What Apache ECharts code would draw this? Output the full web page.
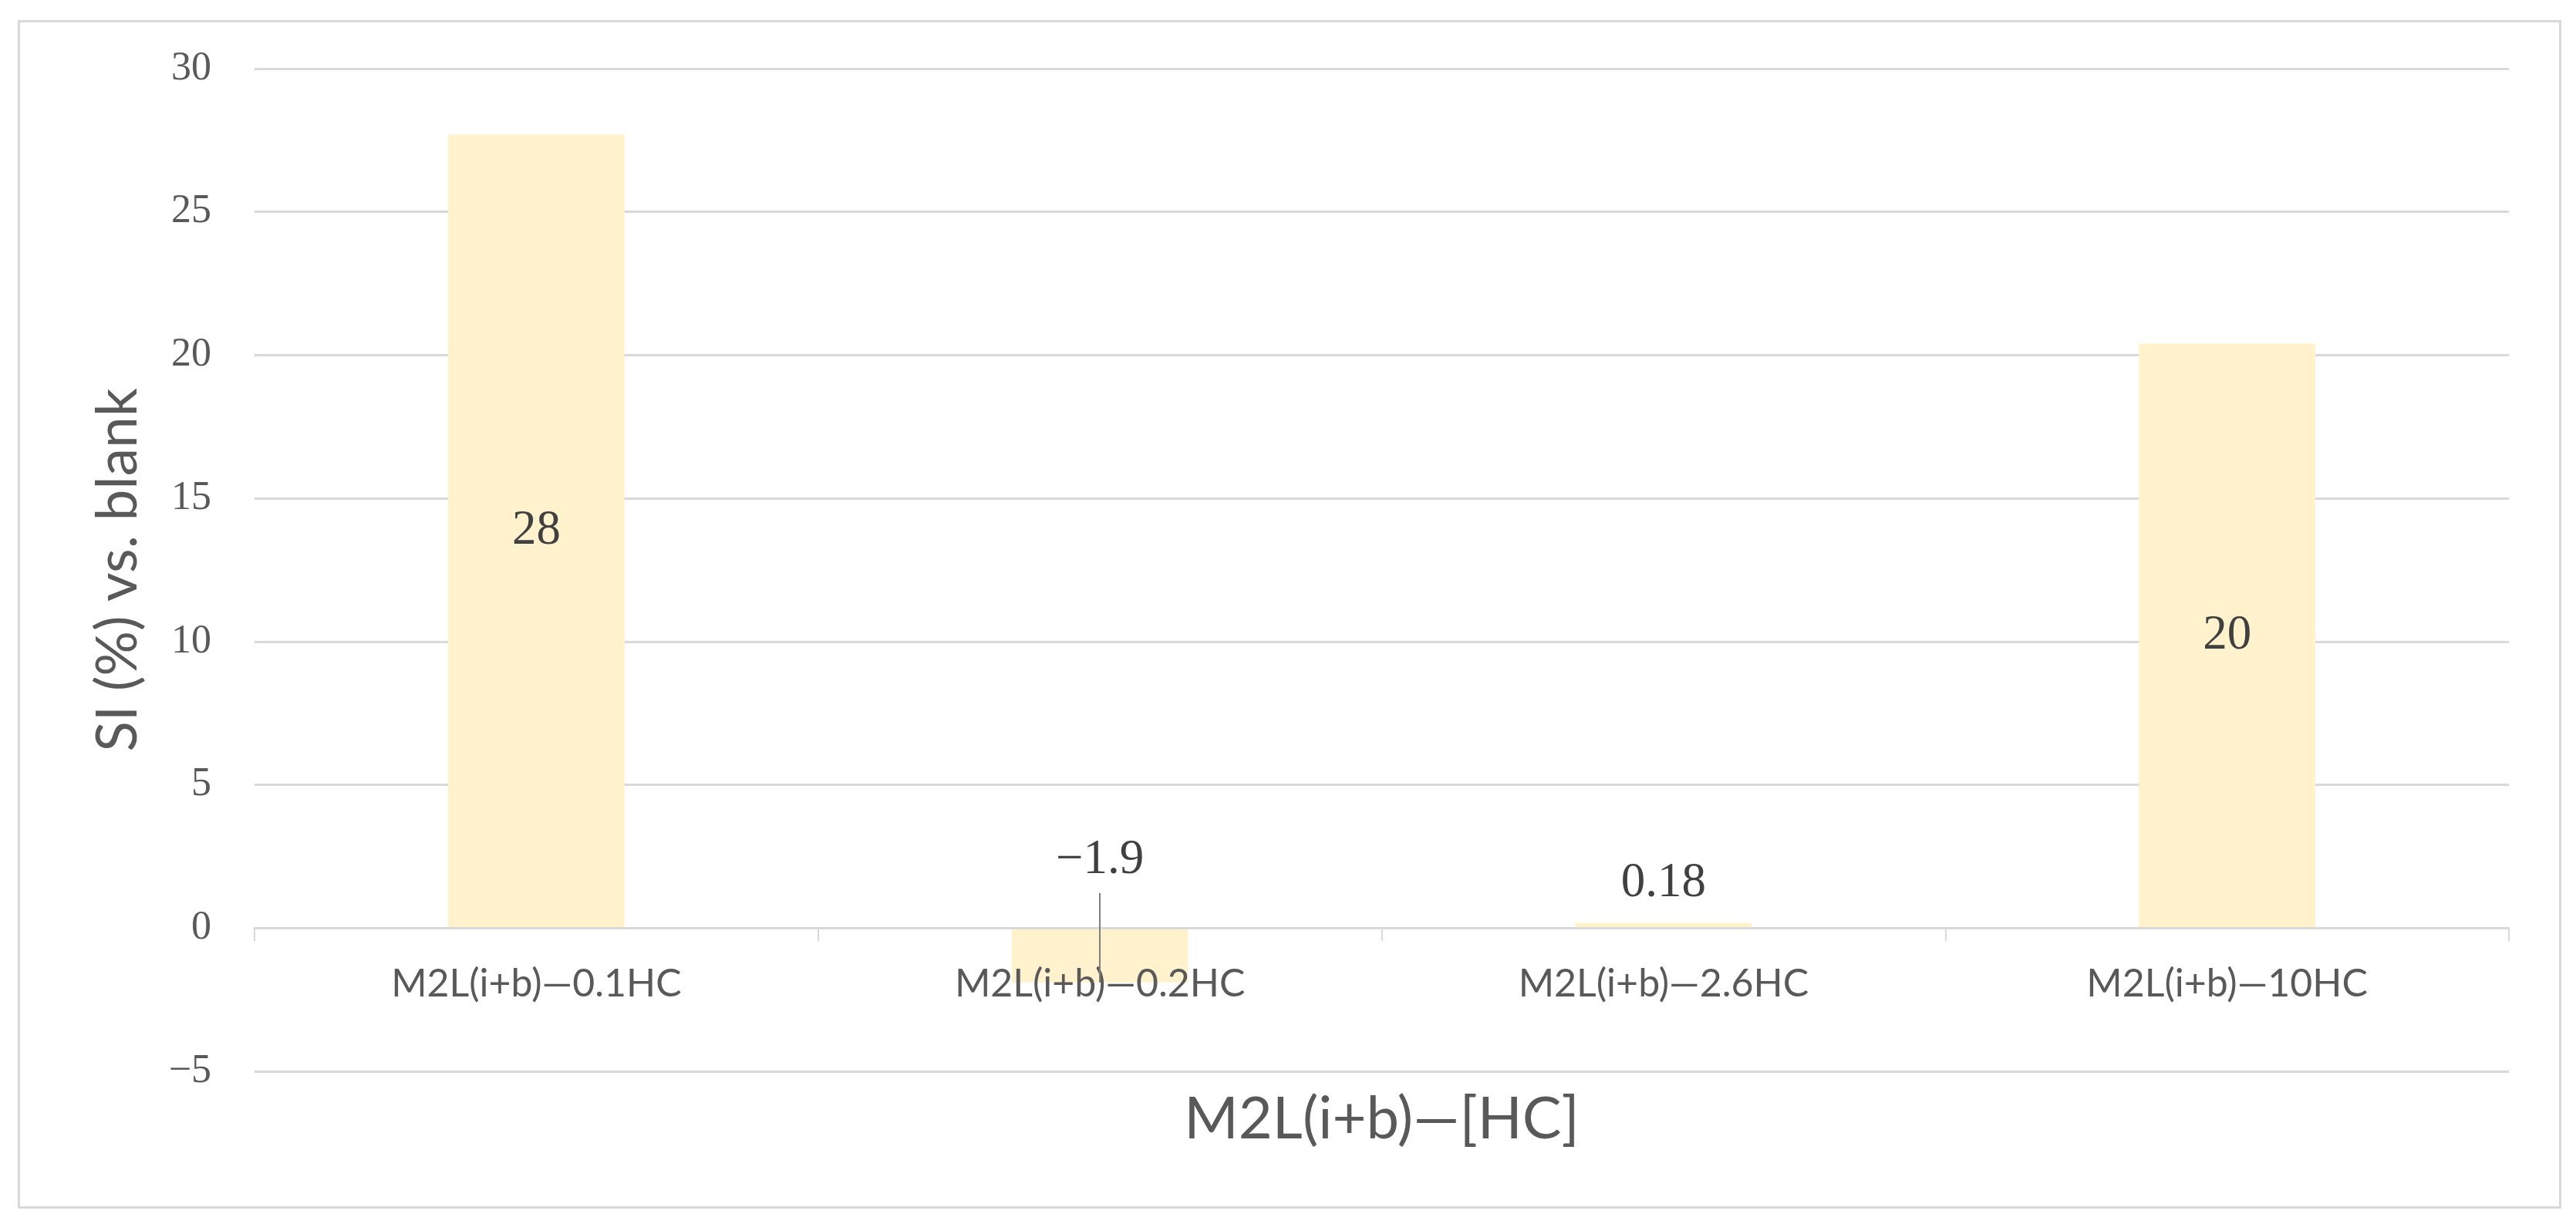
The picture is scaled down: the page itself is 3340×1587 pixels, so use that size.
<!DOCTYPE html>
<html>
<head>
<meta charset="utf-8">
<script src="https://cdn.jsdelivr.net/npm/echarts@6/dist/echarts.min.js"></script>
<style>
  html, body { margin: 0; padding: 0; background: #ffffff; }
  #frame { position: absolute; left: 23px; top: 26px; width: 3298px; height: 1541px; box-sizing: border-box; border: 3px solid #d9d9d9; z-index: 0; }
  #chart { position: absolute; left: 0; top: 0; width: 3340px; height: 1587px; z-index: 1; }
</style>
</head>
<body>
<div id="frame"></div>
<div id="chart"></div>
<script>
// ---- data ----
const categories = ['M2L(i+b)—0.1HC', 'M2L(i+b)—0.2HC', 'M2L(i+b)—2.6HC', 'M2L(i+b)—10HC'];
const siValues = [27.7, -1.9, 0.18, 20.4];
const yTicks = { min: -5, max: 30, interval: 5 };
const xAxisTitle = 'M2L(i+b)—[HC]';
const yAxisTitle = 'SI (%) vs. blank';

const minusFix = s => String(s).replace('-', '\u2212');
const labelText = v => minusFix(Number(v).toPrecision(2).replace(/\.0+$/, ''));

const chart = echarts.init(document.getElementById('chart'), null, { renderer: 'canvas' });

const seriesData = siValues.map(v => {
  const item = { value: v };
  if (Math.abs(v) < 3) {
    item.label = { position: 'top', distance: v < 0 ? 56 : 20 };
  }
  return item;
});

const option = {
  backgroundColor: 'transparent',
  animation: false,
  grid: { left: 330, top: 89, width: 2923, height: 1300, containLabel: false, outerBoundsMode: 'none' },
  xAxis: {
    type: 'category',
    z: 5,
    data: categories,
    axisLine: { onZero: true, lineStyle: { color: '#d9d9d9', width: 3 } },
    axisTick: { show: true, length: 17, lineStyle: { color: '#d9d9d9', width: 2 } },
    axisLabel: { fontFamily: 'Lato', fontSize: 50, color: '#595959', margin: -138 },
    splitLine: { show: false },
    name: xAxisTitle,
    nameLocation: 'middle',
    nameGap: 24,
    nameTextStyle: { fontFamily: 'Lato', fontSize: 76, color: '#595959' }
  },
  yAxis: {
    type: 'value',
    min: yTicks.min,
    max: yTicks.max,
    interval: yTicks.interval,
    axisLine: { show: false },
    axisTick: { show: false },
    axisLabel: { fontFamily: 'Liberation Serif', fontSize: 52, color: '#595959', margin: 56, formatter: v => minusFix(v) },
    splitLine: { show: true, lineStyle: { color: '#d9d9d9', width: 3 } },
    name: yAxisTitle,
    nameLocation: 'middle',
    nameGap: 140,
    nameTextStyle: { fontFamily: 'Lato', fontSize: 73, color: '#595959' }
  },
  series: [{
    type: 'bar',
    data: seriesData,
    barWidth: '31.3%',
    itemStyle: { color: '#FFF2CC' },
    label: {
      show: true,
      position: 'inside',
      fontFamily: 'Liberation Serif',
      fontSize: 63,
      color: '#404040',
      formatter: p => labelText(p.value)
    },
    markLine: {
      silent: true,
      symbol: 'none',
      z: 10,
      label: { show: false },
      lineStyle: { color: '#7f7f7f', width: 2, type: 'solid' },
      data: [[
        { coord: [categories[1], 1.22] },
        { coord: [categories[1], siValues[1]] }
      ]]
    }
  }]
};
chart.setOption(option);
</script>
</body>
</html>
